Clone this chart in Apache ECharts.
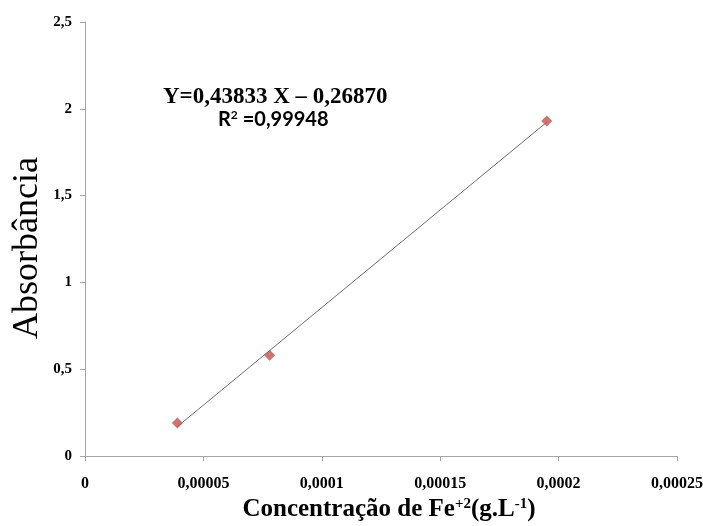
<!DOCTYPE html>
<html>
<head>
<meta charset="utf-8">
<script src="https://cdn.jsdelivr.net/npm/echarts@6/dist/echarts.min.js"></script>
<style>
  html, body { margin: 0; padding: 0; background: #fff; }
  #chart { width: 703px; height: 526px; }
</style>
</head>
<body>
<div id="chart"></div>
<script>
// Calibration points: Fe(II) concentration (g/L) vs absorbance
const concentrations = [0.000039, 0.000078, 0.000195];
const absorbances = [0.19, 0.58, 1.93];

const xTickLabels = ['0', '0,00005', '0,0001', '0,00015', '0,0002', '0,00025'];
const yTickLabels = ['0', '0,5', '1', '1,5', '2', '2,5'];

const equationText = 'Y=0,43833 X – 0,26870';
const r2Text = 'R{sup|2} =0,99948';

// Least-squares fit for the trend line across the measured range
function linearFit(xs, ys) {
  const n = xs.length;
  const mx = xs.reduce((a, b) => a + b, 0) / n;
  const my = ys.reduce((a, b) => a + b, 0) / n;
  let sxy = 0, sxx = 0;
  for (let i = 0; i < n; i++) {
    sxy += (xs[i] - mx) * (ys[i] - my);
    sxx += (xs[i] - mx) * (xs[i] - mx);
  }
  const slope = sxy / sxx;
  return { slope, intercept: my - slope * mx };
}
const fit = linearFit(concentrations, absorbances);
const xMin = Math.min(...concentrations);
const xMax = Math.max(...concentrations);
const trendData = [
  [xMin, fit.intercept + fit.slope * xMin],
  [xMax, fit.intercept + fit.slope * xMax]
];

const serif = '"Liberation Serif", "DejaVu Serif", serif';
const chart = echarts.init(document.getElementById('chart'));

chart.setOption({
  animation: false,
  backgroundColor: '#ffffff',
  grid: { left: 85, right: 26, top: 22, bottom: 70, outerBoundsMode: 'none', containLabel: false },
  xAxis: {
    type: 'value',
    min: 0,
    max: 0.00025,
    interval: 0.00005,
    splitLine: { show: false },
    axisLine: { lineStyle: { color: '#a6a6a6', width: 1 } },
    axisTick: { show: true, length: 5, lineStyle: { color: '#a6a6a6' } },
    axisLabel: {
      margin: 20,
      color: '#000',
      fontFamily: serif,
      fontWeight: 'bold',
      fontSize: 16,
      formatter: (v, i) => xTickLabels[i]
    }
  },
  yAxis: {
    type: 'value',
    min: 0,
    max: 2.5,
    interval: 0.5,
    splitLine: { show: false },
    axisLine: { show: true, lineStyle: { color: '#a6a6a6', width: 1 } },
    axisTick: { show: true, length: 5, lineStyle: { color: '#a6a6a6' } },
    axisLabel: {
      margin: 13,
      color: '#000',
      fontFamily: serif,
      fontWeight: 'bold',
      fontSize: 15,
      formatter: (v, i) => yTickLabels[i]
    }
  },
  series: [
    {
      type: 'line',
      data: trendData,
      symbol: 'none',
      lineStyle: { color: '#6e6e6e', width: 1 },
      z: 2
    },
    {
      type: 'scatter',
      data: concentrations.map((c, i) => [c, absorbances[i]]),
      symbol: 'diamond',
      symbolSize: 11,
      itemStyle: { color: '#c0504d' },
      z: 3
    }
  ],
  graphic: [
    {
      type: 'text',
      left: 163,
      top: 86,
      style: {
        text: equationText,
        fontFamily: serif,
        fontWeight: 'bold',
        fontSize: 23,
        fill: '#000'
      }
    },
    {
      type: 'text',
      left: 218,
      top: 109,
      style: {
        text: r2Text,
        fontFamily: 'Lato, "Open Sans", sans-serif',
        fontWeight: 'bold',
        fontSize: 20,
        fill: '#000',
        rich: {
          sup: { fontSize: 12, verticalAlign: 'top', fontFamily: 'Lato, sans-serif', fontWeight: 'bold', padding: [0, 0, 9, 0] }
        }
      }
    },
    {
      type: 'text',
      x: 28,
      y: 248,
      rotation: Math.PI / 2,
      style: {
        text: 'Absorbância',
        fontFamily: serif,
        fontSize: 36,
        fill: '#000',
        align: 'center',
        verticalAlign: 'middle'
      }
    },
    {
      type: 'text',
      x: 389,
      y: 510,
      style: {
        text: 'Concentração de Fe{sup|+2}(g.L{sup|-1})',
        fontFamily: serif,
        fontWeight: 'bold',
        fontSize: 25,
        fill: '#000',
        align: 'center',
        verticalAlign: 'middle',
        rich: {
          sup: { fontFamily: serif, fontWeight: 'bold', fontSize: 15, padding: [0, 0, 12, 0] }
        }
      }
    }
  ]
});
</script>
</body>
</html>
